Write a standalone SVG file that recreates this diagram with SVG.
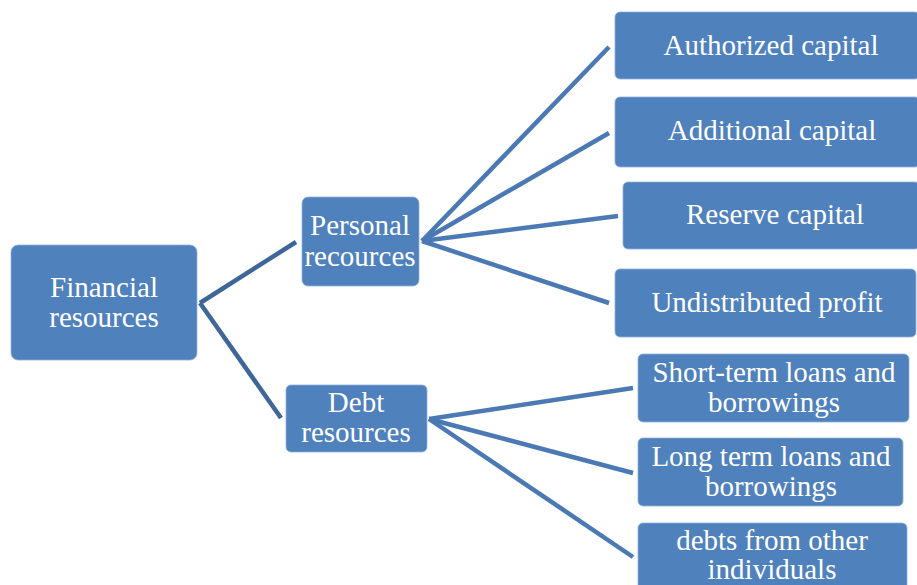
<svg xmlns="http://www.w3.org/2000/svg" width="917" height="585" viewBox="0 0 917 585">
  <style>
    .box { fill: #4F81BD; stroke: #8FB0DA; stroke-width: 0.8; }
    .lbl { font-family: "Liberation Serif", "Times New Roman", serif; font-size: 29px; fill: #FFFFFF; text-anchor: middle; }
    .trunk { stroke: #3E6699; stroke-width: 4.5; fill: none; stroke-linecap: butt; }
    .fan { stroke: #4A79B4; stroke-width: 4.5; fill: none; stroke-linecap: butt; }
  </style>
  <rect width="917" height="585" fill="#FFFFFF"/>

  <g id="connectors">
    <line class="trunk" x1="200" y1="303" x2="296" y2="242"/>
    <line class="trunk" x1="200" y1="303" x2="281" y2="418"/>
    <line class="fan" x1="422" y1="241" x2="609" y2="47"/>
    <line class="fan" x1="422" y1="241" x2="609" y2="133"/>
    <line class="fan" x1="422" y1="241" x2="618" y2="216"/>
    <line class="fan" x1="422" y1="241" x2="609" y2="303"/>
    <line class="fan" x1="429" y1="419" x2="633" y2="388"/>
    <line class="fan" x1="429" y1="419" x2="633" y2="473"/>
    <line class="fan" x1="429" y1="419" x2="633" y2="557"/>
  </g>

  <g id="financial">
    <rect class="box" x="11" y="245" width="186" height="115" rx="7"/>
    <text class="lbl" x="104" y="297">Financial</text>
    <text class="lbl" x="104" y="327">resources</text>
  </g>

  <g id="personal">
    <rect class="box" x="302" y="197" width="117" height="89" rx="6"/>
    <text class="lbl" x="360" y="235">Personal</text>
    <text class="lbl" x="360" y="266">recources</text>
  </g>

  <g id="debt">
    <rect class="box" x="286" y="385" width="141" height="67" rx="5"/>
    <text class="lbl" x="356" y="412">Debt</text>
    <text class="lbl" x="356" y="442">resources</text>
  </g>

  <g id="authorized">
    <rect class="box" x="615" y="12" width="305" height="67" rx="5"/>
    <text class="lbl" x="771" y="55">Authorized capital</text>
  </g>

  <g id="additional">
    <rect class="box" x="615" y="97" width="305" height="70" rx="5"/>
    <text class="lbl" x="772" y="140">Additional capital</text>
  </g>

  <g id="reserve">
    <rect class="box" x="623" y="182" width="297" height="67" rx="5"/>
    <text class="lbl" x="775" y="224">Reserve capital</text>
  </g>

  <g id="undistributed">
    <rect class="box" x="615" y="269" width="301" height="68" rx="5"/>
    <text class="lbl" x="767" y="312">Undistributed profit</text>
  </g>

  <g id="short-term">
    <rect class="box" x="638" y="354" width="271" height="68" rx="5"/>
    <text class="lbl" x="774" y="382">Short-term loans and</text>
    <text class="lbl" x="774" y="412">borrowings</text>
  </g>

  <g id="long-term">
    <rect class="box" x="638" y="438" width="265" height="68" rx="5"/>
    <text class="lbl" x="771" y="466">Long term loans and</text>
    <text class="lbl" x="771" y="496">borrowings</text>
  </g>

  <g id="other-debts">
    <rect class="box" x="638" y="523" width="269" height="75" rx="5"/>
    <text class="lbl" x="772" y="550">debts from other</text>
    <text class="lbl" x="772" y="579">individuals</text>
  </g>
</svg>
